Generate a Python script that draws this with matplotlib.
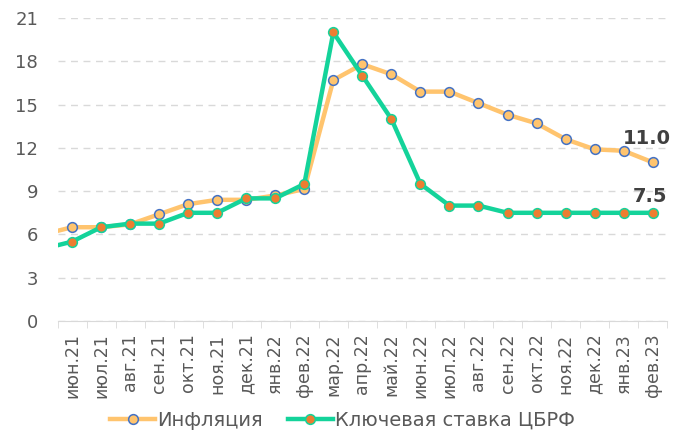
import numpy as np
import matplotlib
matplotlib.use('Agg')
import matplotlib.pyplot as plt
from matplotlib.ticker import FixedLocator

plt.rcParams['font.family'] = ['DejaVu Sans']

# данные (первая точка май.21 за пределами оси, видна только линия)
months = ['май.21', 'июн.21', 'июл.21', 'авг.21', 'сен.21', 'окт.21', 'ноя.21', 'дек.21',
          'янв.22', 'фев.22', 'мар.22', 'апр.22', 'май.22', 'июн.22', 'июл.22',
          'авг.22', 'сен.22', 'окт.22', 'ноя.22', 'дек.22', 'янв.23', 'фев.23']
inflation = [6.0, 6.5, 6.5, 6.7, 7.4, 8.1, 8.4, 8.4, 8.7, 9.15, 16.7, 17.8, 17.1,
             15.9, 15.9, 15.1, 14.3, 13.7, 12.6, 11.9, 11.8, 11.0]
key_rate = [5.0, 5.5, 6.5, 6.75, 6.75, 7.5, 7.5, 8.5, 8.5, 9.5, 20.0, 17.0, 14.0,
            9.5, 8.0, 8.0, 7.5, 7.5, 7.5, 7.5, 7.5, 7.5]

x = np.arange(len(months)) - 1

fig = plt.figure(figsize=(6.85, 4.3), dpi=100)
ax = fig.add_axes([0.084, 0.2535, 0.89, 0.7045])

ax.plot(x, inflation, color='#FFC46E', lw=3.2, marker='o', ms=7,
        mfc='#FFC46E', mec='#4472C4', mew=1.1, label='Инфляция', zorder=3)
ax.plot(x, key_rate, color='#14D39A', lw=3.2, marker='o', ms=7,
        mfc='#ED7D31', mec='#14D39A', mew=1.1, label='Ключевая ставка ЦБРФ', zorder=4)

ax.annotate(f'{inflation[-1]:.1f}', (x[-1], inflation[-1]), xytext=(-4, 10),
            textcoords='offset points', ha='center', va='bottom',
            fontsize=14, fontweight='bold', color='#404040')
ax.annotate(f'{key_rate[-1]:.1f}', (x[-1], key_rate[-1]), xytext=(-2, 5),
            textcoords='offset points', ha='center', va='bottom',
            fontsize=14, fontweight='bold', color='#404040')

ax.set_xlim(-0.5, len(months) - 1.5)
ax.set_ylim(0, 21)
ax.set_yticks(np.arange(0, 22, 3))
ax.set_xticks(x[1:])
ax.set_xticklabels(months[1:], rotation=90)
ax.xaxis.set_minor_locator(FixedLocator(np.arange(-0.5, len(months) - 1, 1)))
ax.tick_params(axis='x', which='major', length=0, pad=9, labelsize=12.5, colors='#595959')
ax.tick_params(axis='x', which='minor', length=5, color='#D9D9D9')
ax.tick_params(axis='y', length=0, pad=14, labelsize=13, colors='#595959')

ax.grid(axis='y', color='#D9D9D9', ls=(0, (5, 4)), lw=1)
ax.set_axisbelow(True)
for s in ['top', 'right', 'left']:
    ax.spines[s].set_visible(False)
ax.spines['bottom'].set_color('#D9D9D9')
ax.spines['bottom'].set_zorder(5)

leg = fig.legend(loc='lower center', bbox_to_anchor=(0.5, -0.04), ncol=2, frameon=False,
                 fontsize=14, handlelength=2.3, handletextpad=0.1, columnspacing=1.3)
for t in leg.get_texts():
    t.set_color('#595959')

fig.savefig('out.png', dpi=100)
